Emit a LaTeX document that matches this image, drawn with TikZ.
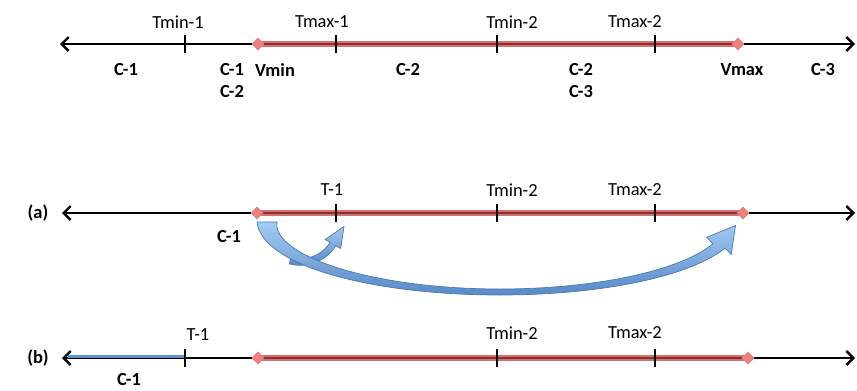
\documentclass[tikz,border=0pt]{standalone}
\usepackage{fontspec}
\setmainfont{Carlito}
\usetikzlibrary{arrows.meta,shapes.geometric}

\definecolor{bandred}{RGB}{214,112,112}
\definecolor{banddark}{RGB}{135,50,50}
\definecolor{markpink}{RGB}{234,130,130}
\definecolor{flowlight}{RGB}{165,202,242}
\definecolor{flowdark}{RGB}{88,138,198}
\definecolor{flowedge}{RGB}{72,120,182}
\definecolor{segblue}{RGB}{92,146,206}

\begin{document}
\begin{tikzpicture}[x=1bp,y=-1bp,
  barb/.tip={Straight Barb[length=7bp,width=14bp,line width=2.4bp]},
  axisline/.style={line width=2.7bp,draw=black,barb-barb},
  rangeband/.style={line width=5.5bp,draw=bandred},
  rangecore/.style={line width=1.3bp,draw=banddark},
  tickmark/.style={line width=2.8bp,draw=black},
  vmark/.style={diamond,fill=markpink,draw=none,minimum size=13bp,inner sep=0pt},
  toplbl/.style={font=\fontsize{18.5}{21}\selectfont,inner sep=0pt},
  botlbl/.style={font=\fontsize{18.5}{21}\selectfont\bfseries,inner sep=0pt},
  flow/.style={draw=flowedge,line width=0.7bp,top color=flowlight,bottom color=flowdark},
  declare function={wd(\p)=(\p<90) ? 6+14*((90-\p)/90)^2 : 6+7*((\p-90)/70)^2;}
]
\useasboundingbox (0,0) rectangle (857,390);

% ---------------- top axis ----------------
\coordinate (aL) at (60,44);
\coordinate (aR) at (855,44);
\coordinate (aT1) at (185,44);
\coordinate (aT2) at (336,44);
\coordinate (aT3) at (497,44);
\coordinate (aT4) at (655,44);
\draw[axisline] (aL) -- (aR);
\node[vmark] (aVmin) at (258,44) {};
\node[vmark] (aVmax) at (738,44) {};
\draw[rangeband] (aVmin.center) -- (aVmax.center);
\draw[rangecore] (aVmin.center) -- (aVmax.center);
\node[vmark] at (aVmin) {};
\node[vmark] at (aVmax) {};
\foreach \t in {aT1,aT2,aT3,aT4}
  \draw[tickmark] ([yshift=9bp]\t) -- ([yshift=-9bp]\t);

\node[toplbl] (laT1) at (178,22) {Tmin-1};
\node[toplbl] (laT2) at (322,22) {Tmax-1};
\node[toplbl] (laT3) at (512,22) {Tmin-2};
\node[toplbl] (laT4) at (635,22) {Tmax-2};
\node[botlbl] (laC1) at (126,70) {C-1};
\node[botlbl] (laC1b) at (232,70) {C-1};
\node[botlbl] (laC2b) at (232,92) {C-2};
\node[botlbl] (laVmin) at (275,70) {Vmin};
\node[botlbl] (laC2) at (408,70) {C-2};
\node[botlbl] (laC2c) at (581,70) {C-2};
\node[botlbl] (laC3c) at (581,92) {C-3};
\node[botlbl] (laVmax) at (742,70) {Vmax};
\node[botlbl] (laC3) at (823,70) {C-3};

% ---------------- row (a) ----------------
\node[botlbl] (tagA) at (38,213) {(a)};
\coordinate (bL) at (62,213);
\coordinate (bR) at (855,213);
\coordinate (bT1) at (336,213);
\coordinate (bT3) at (497,213);
\coordinate (bT4) at (655,213);
\draw[axisline] (bL) -- (bR);
\node[vmark] (bVmin) at (257,213) {};
\node[vmark] (bVmax) at (743,213) {};
\draw[rangeband] (bVmin.center) -- (bVmax.center);
\draw[rangecore] (bVmin.center) -- (bVmax.center);
\node[vmark] at (bVmin) {};
\node[vmark] at (bVmax) {};
\foreach \t in {bT1,bT3,bT4}
  \draw[tickmark] ([yshift=9bp]\t) -- ([yshift=-9bp]\t);

\node[toplbl] (lbT1) at (332,190) {T-1};
\node[toplbl] (lbT3) at (512,190) {Tmin-2};
\node[toplbl] (lbT4) at (635,190) {Tmax-2};
\node[botlbl] (lbC1) at (229,237) {C-1};

% short curved arrow towards T-1
\path[flow]
  plot[domain=75:150,samples=40,variable=\p]
    ({300-41.25*cos(\p)},{226+39.25*sin(\p)})
  -- (340.7,248.5) -- (344.0,226.5) -- (325.1,239.5)
  -- plot[domain=150:75,samples=40,variable=\p]
    ({300-34.75*cos(\p)},{226+32.75*sin(\p)})
  -- cycle;

% long curved arrow from Vmin towards Vmax
\path[flow]
  plot[domain=0:160,samples=90,variable=\p]
    ({500-(233+wd(\p)/2)*cos(\p)},{222+(70+wd(\p)/2)*sin(\p)})
  -- (731.2,254.5) -- (735.5,225.5) -- (706.7,237.3)
  -- plot[domain=160:0,samples=90,variable=\p]
    ({500-(233-wd(\p)/2)*cos(\p)},{222+(70-wd(\p)/2)*sin(\p)})
  -- cycle;

% ---------------- row (b) ----------------
\node[botlbl] (tagB) at (38,358) {(b)};
\coordinate (cL) at (62,358);
\coordinate (cR) at (855,358);
\coordinate (cT1) at (185,358);
\coordinate (cT3) at (497,358);
\coordinate (cT4) at (655,358);
\draw[axisline] (cL) -- (cR);
\draw[line width=3bp,draw=segblue] ([xshift=6bp,yshift=1.8bp]cL) -- ([yshift=1.8bp]cT1);
\node[vmark] (cVmin) at (258,358) {};
\node[vmark] (cVmax) at (748,358) {};
\draw[rangeband] (cVmin.center) -- (cVmax.center);
\draw[rangecore] (cVmin.center) -- (cVmax.center);
\node[vmark] at (cVmin) {};
\node[vmark] at (cVmax) {};
\foreach \t in {cT1,cT3,cT4}
  \draw[tickmark] ([yshift=9bp]\t) -- ([yshift=-9bp]\t);

\node[toplbl] (lcT1) at (198,335) {T-1};
\node[toplbl] (lcT3) at (512,333) {Tmin-2};
\node[toplbl] (lcT4) at (635,333) {Tmax-2};
\node[botlbl] (lcC1) at (129,380) {C-1};
\end{tikzpicture}
\end{document}
